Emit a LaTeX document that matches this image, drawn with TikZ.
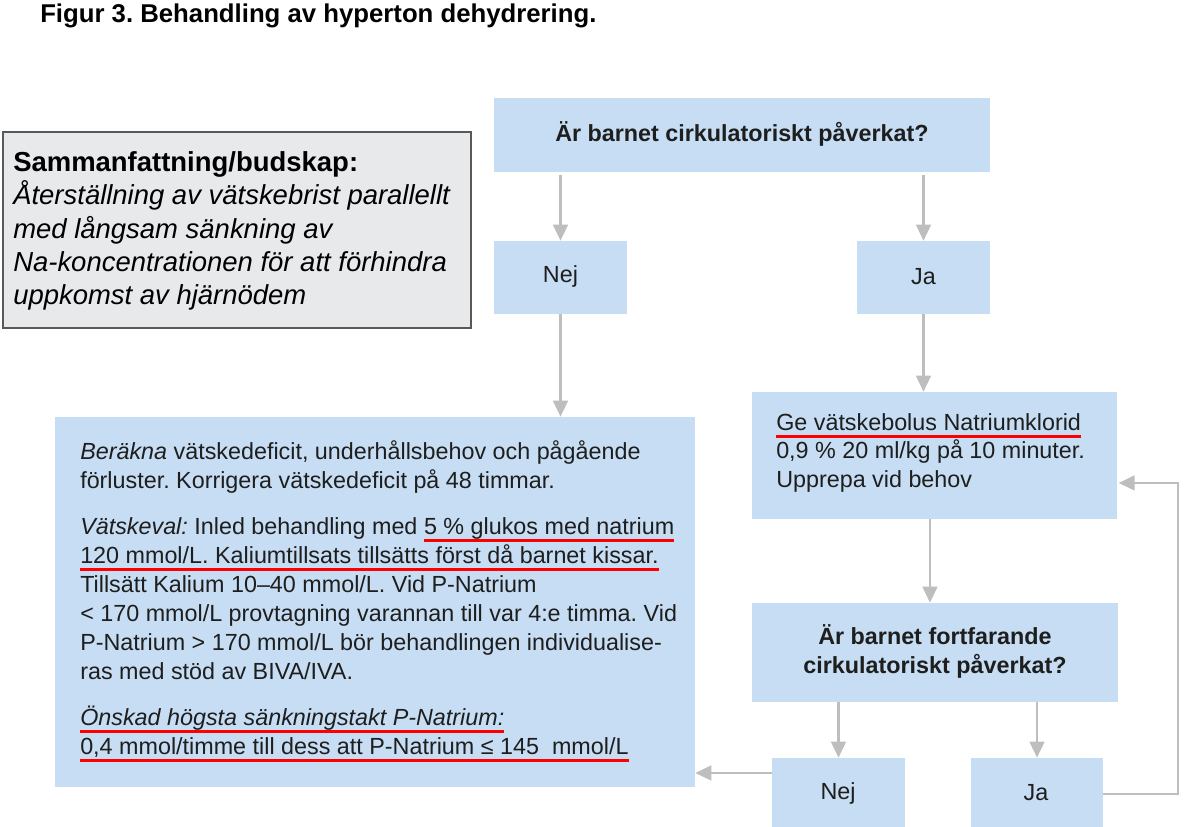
\documentclass[tikz,border=0pt]{standalone}
\usepackage{fontspec}
\setmainfont{Liberation Sans}
\usetikzlibrary{arrows.meta,fit,calc}
\definecolor{boxblue}{HTML}{C6DDF3}
\definecolor{sumgray}{HTML}{E8E9EB}
\definecolor{arrgray}{HTML}{BEBEBE}
\definecolor{ink}{HTML}{1E1E1E}
\newsavebox{\redulbox}
\newcommand\redul[1]{\sbox{\redulbox}{#1}\rlap{\color{red}\rule[-6pt]{\wd\redulbox}{2.2pt}}\usebox{\redulbox}}
\frenchspacing
\begin{document}
\begin{tikzpicture}[x=0.75pt,y=-0.75pt,
  bluebox/.style={fill=boxblue, draw=none, inner sep=0pt},
  sumbox/.style={fill=sumgray, draw=black!65, line width=1.1pt, inner sep=0pt},
  qtext/.style={font=\bfseries\fontsize{17.5}{21.75}\selectfont, text=ink, align=center, inner sep=0pt},
  atext/.style={font=\fontsize{17.5}{21.75}\selectfont, text=ink, inner sep=0pt},
  btext/.style={font=\fontsize{17.5}{21.75}\selectfont, text=ink, align=left, inner sep=0pt, anchor=base west},
  stext/.style={font=\fontsize{20.6}{25}\selectfont, text=black, align=left, inner sep=0pt, anchor=base west},
  arr/.style={draw=arrgray, line width=1.8pt, -{Triangle[length=12pt,width=11pt]}}
]
\useasboundingbox (0,0) rectangle (1190,827);

% title
\node[anchor=base west, inner sep=0pt, font=\bfseries\fontsize{19.3}{23}\selectfont] (title) at (40,23) {Figur 3. Behandling av hyperton dehydrering.};

% summary box (base anchor = baseline of last line)
\node[sumbox, fit={(3,132)(471,328)}] (sum) {};
\node[stext] (sumtext) at (13,305) {\textbf{Sammanfattning/budskap:}\\
\textit{Återställning av vätskebrist parallellt}\\
\textit{med långsam sänkning av}\\
\textit{Na-koncentrationen för att förhindra}\\
\textit{uppkomst av hjärnödem}};

% blue boxes
\node[bluebox, fit={(494,98)(990,172)}] (q1) {};
\node[bluebox, fit={(494,241)(627,314)}] (nej1) {};
\node[bluebox, fit={(857,241)(990,314)}] (ja1) {};
\node[bluebox, fit={(55,417)(695,787)}] (calc) {};
\node[bluebox, fit={(752,392)(1117,519)}] (ge) {};
\node[bluebox, fit={(752,603)(1118,702)}] (fort) {};
\node[bluebox, fit={(772,758)(905,830)}] (nej2) {};
\node[bluebox, fit={(971,758)(1103,830)}] (ja2) {};

% box texts
\node[qtext] (q1t) at ([yshift=1pt]q1.center) {Är barnet cirkulatoriskt påverkat?};
\node[atext] (nej1t) at ([yshift=1pt]nej1.center) {Nej};
\node[atext] (ja1t) at ([yshift=1pt]ja1.center) {Ja};
\node[qtext] (fortt) at ([yshift=1pt]fort.center) {Är barnet fortfarande\\cirkulatoriskt påverkat?};
\node[atext] (nej2t) at (838,793) {Nej};
\node[atext] (ja2t) at (1036,793) {Ja};

\node[btext] (calctext) at (80,754) {\textit{Beräkna} vätskedeficit, underhållsbehov och pågående\\
förluster. Korrigera vätskedeficit på 48 timmar.\\[12.75pt]
\textit{Vätskeval:} Inled behandling med \redul{5 \% glukos med natrium}\\
\redul{120 mmol/L. Kaliumtillsats tillsätts först då barnet kissar.}\\
Tillsätt Kalium 10–40 mmol/L. Vid P-Natrium\\
< 170 mmol/L provtagning varannan till var 4:e timma. Vid\\
P-Natrium > 170 mmol/L bör behandlingen individualise-\\
ras med stöd av BIVA/IVA.\\[12.75pt]
\redul{\textit{Önskad högsta sänkningstakt P-Natrium:}}\\
\redul{0,4 mmol/timme till dess att P-Natrium ≤ 145~~mmol/L}};

\node[btext] (getext) at (776,488) {\redul{Ge vätskebolus Natriumklorid}\\
0,9 \% 20 ml/kg på 10 minuter.\\
Upprepa vid behov};

% connectors
\draw[arr, shorten <=2pt] (q1.south -| nej1) -- (nej1.north);
\draw[arr, shorten <=2pt] (q1.south -| ja1) -- (ja1.north);
\draw[arr] (nej1) -- (nej1 |- calc.north);
\draw[arr] (ja1) -- (ja1 |- ge.north);
\draw[arr] ([xshift=-3.4pt]ge.south) -- ([xshift=-3.4pt]ge.south |- fort.north);
\draw[arr] (fort.south -| nej2) -- (nej2.north);
\draw[arr] (fort.south -| ja2) -- (ja2.north);
\draw[arr] ([yshift=15.75pt]nej2.west) -- ([yshift=15.75pt]nej2.west -| calc.east);
\coordinate (loopx) at (1178,0);
\draw[arr, shorten >=1pt] (ja2.east) -- (ja2.east -| loopx) |- ([yshift=-20.6pt]ge.east);
\end{tikzpicture}
\end{document}
